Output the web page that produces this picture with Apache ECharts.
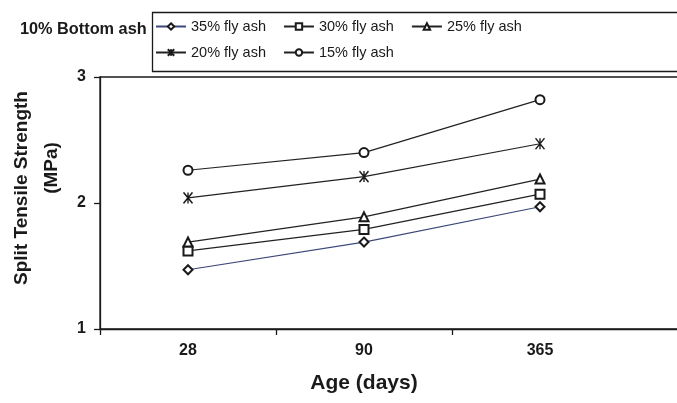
<!DOCTYPE html>
<html>
<head>
<meta charset="utf-8">
<script src="https://cdn.jsdelivr.net/npm/echarts@6/dist/echarts.min.js"></script>
<style>
  html, body { margin: 0; padding: 0; background: #fff; }
  #chart { width: 677px; height: 403px; }
</style>
</head>
<body>
<div id="chart"></div>
<script>
// Curing ages on the x axis
var ages = ['28', '90', '365'];

// Split tensile strength (MPa) for each fly ash content, 10% bottom ash
var flyAsh35 = [1.47, 1.69, 1.97];
var flyAsh30 = [1.62, 1.79, 2.07];
var flyAsh25 = [1.69, 1.89, 2.19];
var flyAsh20 = [2.04, 2.21, 2.47];
var flyAsh15 = [2.26, 2.40, 2.82];

var seriesNames = ['35% fly ash', '30% fly ash', '25% fly ash', '20% fly ash', '15% fly ash'];
var yTicks = [1, 2, 3];

var FONT = '"Liberation Sans", Arial, sans-serif';
var INK = '#1a1a1a';

// asterisk-style marker drawn as stroked strokes
var asterisk = 'path://M0,0L10,12M10,0L0,12M5,0L5,12';

// the plot continues past the right edge, so an empty slot follows the last age
var axisCats = ages.concat(['']);

function lineSeries(name, data, symbol, lineColor) {
  var isStar = symbol === asterisk;
  return {
    name: name,
    type: 'line',
    data: data,
    symbol: symbol,
    symbolSize: isStar ? [9, 11] : 9,
    showSymbol: true,
    lineStyle: { color: lineColor, width: 1.2 },
    itemStyle: { color: INK, borderColor: INK, borderWidth: isStar ? 1.5 : 1.2 },
    emphasis: { disabled: true },
    animation: false
  };
}

var chart = echarts.init(document.getElementById('chart'), null, { renderer: 'canvas' });

var legendText = { fontFamily: FONT, fontSize: 14.5, color: INK };

chart.setOption({
  backgroundColor: '#fff',
  animation: false,
  title: {
    text: '10% Bottom ash',
    left: 15,
    top: 17,
    textStyle: { fontFamily: FONT, fontSize: 16.3, fontWeight: 'bold', color: INK }
  },
  graphic: [{
    type: 'rect',
    shape: { x: 152.5, y: 12.5, width: 620, height: 59 },
    style: { fill: 'none', stroke: INK, lineWidth: 1.3 },
    silent: true
  }],
  legend: [{
    data: seriesNames.slice(0, 3),
    left: 155,
    top: 19,
    padding: 0,
    itemWidth: 30,
    itemHeight: 8,
    itemGap: 17,
    textStyle: legendText,
    selectedMode: false
  }, {
    data: seriesNames.slice(3),
    left: 155,
    top: 45,
    padding: 0,
    itemWidth: 30,
    itemHeight: 8,
    itemGap: 17,
    textStyle: legendText,
    selectedMode: false
  }],
  grid: {
    left: 100,
    top: 77,
    bottom: 74,
    right: -127,
    outerBoundsMode: 'none',
    containLabel: false,
    show: true,
    borderColor: INK,
    borderWidth: 1.3,
    backgroundColor: 'transparent'
  },
  xAxis: {
    type: 'category',
    data: axisCats,
    boundaryGap: true,
    name: 'Age (days)',
    nameLocation: 'middle',
    nameGap: 44,
    nameTextStyle: {
      fontFamily: FONT, fontSize: 21, fontWeight: 'bold', color: INK,
      padding: [0, 176, 0, 0]
    },
    axisLine: { lineStyle: { color: INK, width: 1.3 } },
    axisTick: {
      show: true, length: 6, inside: false,
      interval: function (index) { return index < 3; },
      lineStyle: { color: INK, width: 1.3 }
    },
    axisLabel: {
      margin: 14,
      fontFamily: FONT, fontSize: 16, fontWeight: 'bold', color: INK
    },
    splitLine: { show: false }
  },
  yAxis: {
    type: 'value',
    min: yTicks[0],
    max: yTicks[yTicks.length - 1],
    interval: 1,
    name: '{a|Split Tensile Strength}\n{b|(MPa)}',
    nameLocation: 'middle',
    nameGap: 33,
    nameRotate: 90,
    nameTextStyle: {
      fontFamily: FONT, fontSize: 19, fontWeight: 'bold', color: INK,
      align: 'center',
      padding: [0, 0, 0, 30],
      rich: {
        a: { fontFamily: FONT, fontSize: 19, fontWeight: 'bold', color: INK, lineHeight: 30 },
        b: { fontFamily: FONT, fontSize: 19, fontWeight: 'bold', color: INK, lineHeight: 30, padding: [0, 0, 0, 40] }
      }
    },
    axisLine: { show: true, lineStyle: { color: INK, width: 1.3 } },
    axisTick: { show: true, length: 6, inside: false, lineStyle: { color: INK, width: 1.3 } },
    axisLabel: {
      margin: 14,
      fontFamily: FONT, fontSize: 16, fontWeight: 'bold', color: INK
    },
    splitLine: { show: false }
  },
  series: [
    lineSeries(seriesNames[0], flyAsh35, 'emptyDiamond', '#3d4878'),
    lineSeries(seriesNames[1], flyAsh30, 'emptyRect', '#222'),
    lineSeries(seriesNames[2], flyAsh25, 'emptyTriangle', '#222'),
    lineSeries(seriesNames[3], flyAsh20, asterisk, '#222'),
    lineSeries(seriesNames[4], flyAsh15, 'emptyCircle', '#222')
  ]
});
</script>
</body>
</html>
